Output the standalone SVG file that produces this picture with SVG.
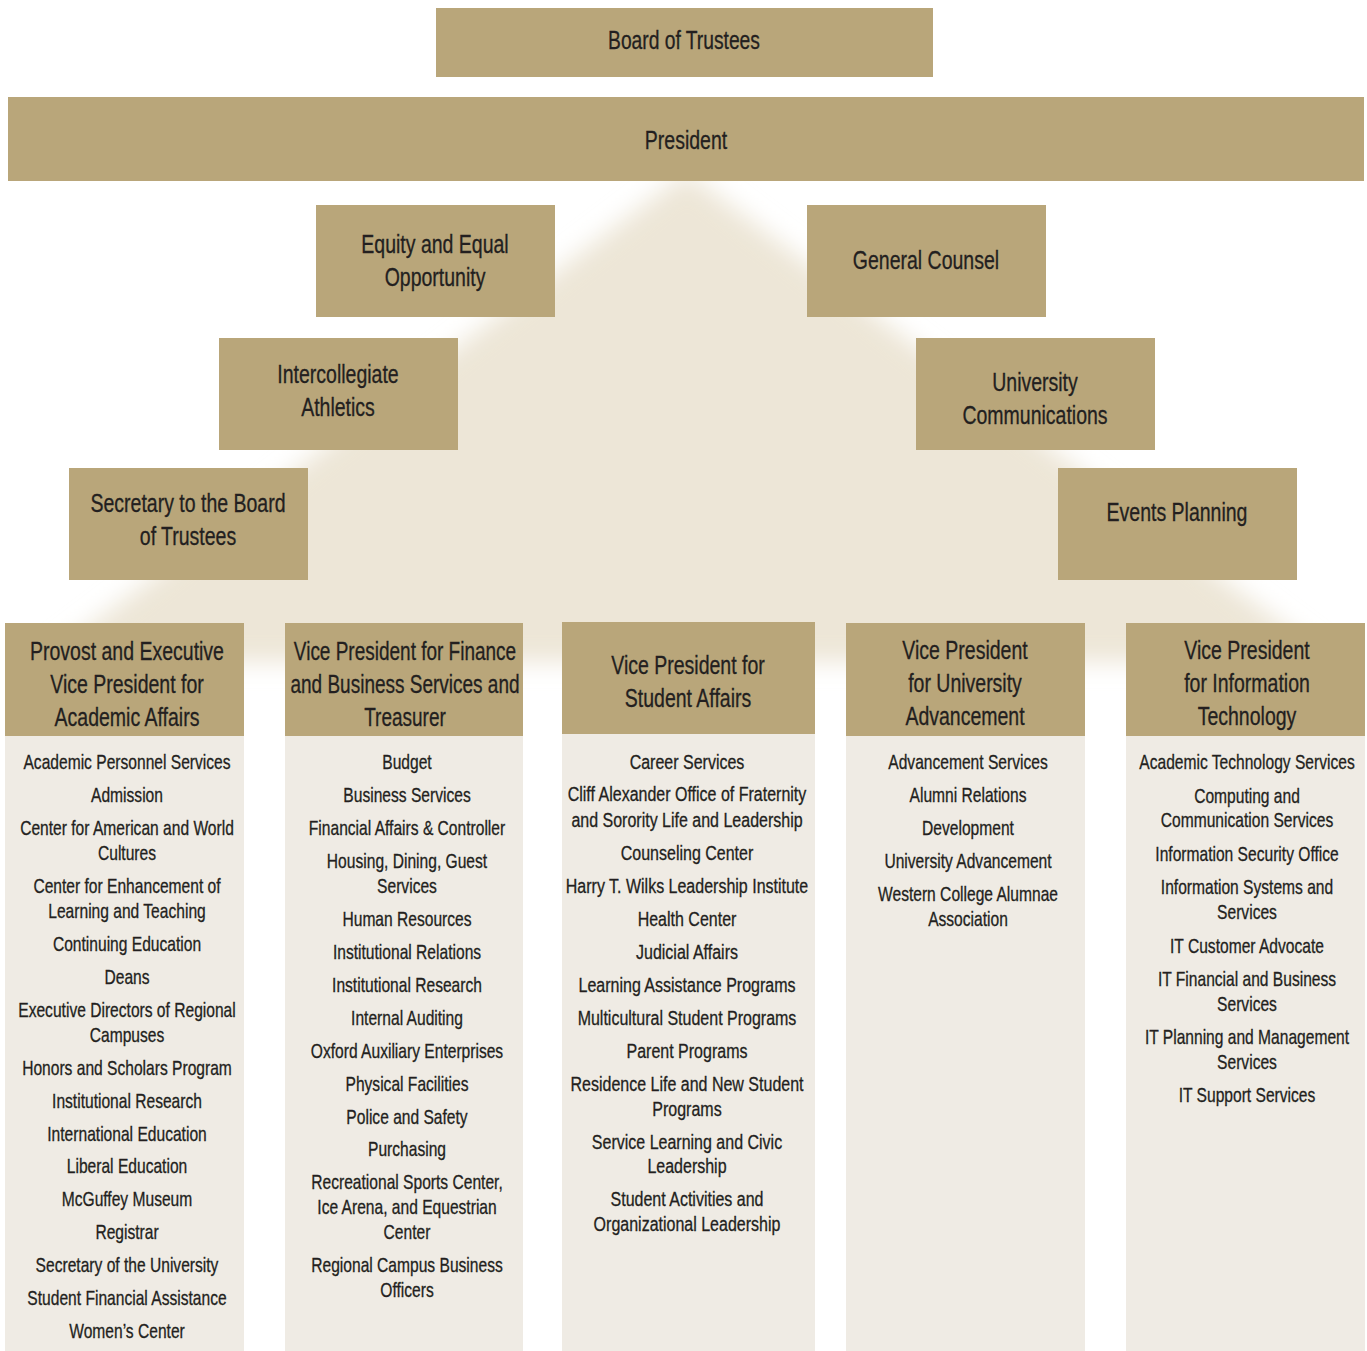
<svg xmlns="http://www.w3.org/2000/svg" width="1367" height="1351" viewBox="0 0 1367 1351">
<style>
.box{fill:#b9a67a}
.col{fill:#efebe4}
text{font-family:"Liberation Sans",Arial,sans-serif;fill:#231f20;stroke:#231f20;stroke-width:0.3;text-anchor:middle}
.h{font-size:25px}
.b{font-size:20px}
</style>
<defs>
<filter id="blur" x="-20%" y="-20%" width="140%" height="140%"><feGaussianBlur stdDeviation="12"/></filter>
</defs>
<rect width="1367" height="1351" fill="#ffffff"/>
<polygon points="687,172 1332,662 42,662" fill="#ede6d7" filter="url(#blur)"/>
<g id="connectors"></g>
<g id="board"><rect class="box" x="436" y="8" width="497" height="69"/><g transform="translate(684,0) scale(0.77,1)"><text class="h" x="0" y="49">Board of Trustees</text></g></g>
<g id="president"><rect class="box" x="8" y="97" width="1356" height="84"/><g transform="translate(686,0) scale(0.78,1)"><text class="h" x="0" y="149">President</text></g></g>
<g id="equity"><rect class="box" x="316" y="205" width="239" height="112"/><g transform="translate(435,0) scale(0.78,1)"><text class="h" x="0" y="253">Equity and Equal</text><text class="h" x="0" y="286">Opportunity</text></g></g>
<g id="counsel"><rect class="box" x="807" y="205" width="239" height="112"/><g transform="translate(926,0) scale(0.78,1)"><text class="h" x="0" y="269">General Counsel</text></g></g>
<g id="athletics"><rect class="box" x="219" y="338" width="239" height="112"/><g transform="translate(338,0) scale(0.78,1)"><text class="h" x="0" y="383">Intercollegiate</text><text class="h" x="0" y="416">Athletics</text></g></g>
<g id="communications"><rect class="box" x="916" y="338" width="239" height="112"/><g transform="translate(1035,0) scale(0.78,1)"><text class="h" x="0" y="391">University</text><text class="h" x="0" y="424">Communications</text></g></g>
<g id="secretary"><rect class="box" x="69" y="468" width="239" height="112"/><g transform="translate(188,0) scale(0.78,1)"><text class="h" x="0" y="512">Secretary to the Board</text><text class="h" x="0" y="545">of Trustees</text></g></g>
<g id="events"><rect class="box" x="1058" y="468" width="239" height="112"/><g transform="translate(1177,0) scale(0.78,1)"><text class="h" x="0" y="521">Events Planning</text></g></g>

<g id="provost">
<rect class="col" x="5" y="736" width="239" height="615"/>
<rect class="box" x="5" y="623" width="239" height="113"/>
<g transform="translate(127,0) scale(0.78,1)">
<text class="h" x="0" y="660">Provost and Executive</text>
<text class="h" x="0" y="693">Vice President for</text>
<text class="h" x="0" y="726">Academic Affairs</text>
<text class="b" x="0" y="769">Academic Personnel Services</text>
<text class="b" x="0" y="802">Admission</text>
<text class="b" x="0" y="835">Center for American and World</text>
<text class="b" x="0" y="860">Cultures</text>
<text class="b" x="0" y="893">Center for Enhancement of</text>
<text class="b" x="0" y="918">Learning and Teaching</text>
<text class="b" x="0" y="951">Continuing Education</text>
<text class="b" x="0" y="984">Deans</text>
<text class="b" x="0" y="1017">Executive Directors of Regional</text>
<text class="b" x="0" y="1042">Campuses</text>
<text class="b" x="0" y="1075">Honors and Scholars Program</text>
<text class="b" x="0" y="1108">Institutional Research</text>
<text class="b" x="0" y="1141">International Education</text>
<text class="b" x="0" y="1173">Liberal Education</text>
<text class="b" x="0" y="1206">McGuffey Museum</text>
<text class="b" x="0" y="1239">Registrar</text>
<text class="b" x="0" y="1272">Secretary of the University</text>
<text class="b" x="0" y="1305">Student Financial Assistance</text>
<text class="b" x="0" y="1338">Women’s Center</text>
</g>
</g>

<g id="finance">
<rect class="col" x="285" y="736" width="238" height="615"/>
<rect class="box" x="285" y="623" width="238" height="113"/>
<g transform="translate(405,0) scale(0.76,1)">
<text class="h" x="0" y="660">Vice President for Finance</text>
<text class="h" x="0" y="693">and Business Services and</text>
<text class="h" x="0" y="726">Treasurer</text>
</g>
<g transform="translate(407,0) scale(0.78,1)">
<text class="b" x="0" y="769">Budget</text>
<text class="b" x="0" y="802">Business Services</text>
<text class="b" x="0" y="835">Financial Affairs &amp; Controller</text>
<text class="b" x="0" y="868">Housing, Dining, Guest</text>
<text class="b" x="0" y="893">Services</text>
<text class="b" x="0" y="926">Human Resources</text>
<text class="b" x="0" y="959">Institutional Relations</text>
<text class="b" x="0" y="992">Institutional Research</text>
<text class="b" x="0" y="1025">Internal Auditing</text>
<text class="b" x="0" y="1058">Oxford Auxiliary Enterprises</text>
<text class="b" x="0" y="1091">Physical Facilities</text>
<text class="b" x="0" y="1124">Police and Safety</text>
<text class="b" x="0" y="1156">Purchasing</text>
<text class="b" x="0" y="1189">Recreational Sports Center,</text>
<text class="b" x="0" y="1214">Ice Arena, and Equestrian</text>
<text class="b" x="0" y="1239">Center</text>
<text class="b" x="0" y="1272">Regional Campus Business</text>
<text class="b" x="0" y="1297">Officers</text>
</g>
</g>

<g id="student">
<rect class="col" x="562" y="734" width="253" height="617"/>
<rect class="box" x="562" y="622" width="253" height="112"/>
<g transform="translate(688,0) scale(0.78,1)">
<text class="h" x="0" y="674">Vice President for</text>
<text class="h" x="0" y="707">Student Affairs</text>
</g>
<g transform="translate(687,0) scale(0.8,1)">
<text class="b" x="0" y="769">Career Services</text>
<text class="b" x="0" y="801">Cliff Alexander Office of Fraternity</text>
<text class="b" x="0" y="827">and Sorority Life and Leadership</text>
<text class="b" x="0" y="860">Counseling Center</text>
<text class="b" x="0" y="893">Harry T. Wilks Leadership Institute</text>
<text class="b" x="0" y="926">Health Center</text>
<text class="b" x="0" y="959">Judicial Affairs</text>
<text class="b" x="0" y="992">Learning Assistance Programs</text>
<text class="b" x="0" y="1025">Multicultural Student Programs</text>
<text class="b" x="0" y="1058">Parent Programs</text>
<text class="b" x="0" y="1091">Residence Life and New Student</text>
<text class="b" x="0" y="1116">Programs</text>
<text class="b" x="0" y="1149">Service Learning and Civic</text>
<text class="b" x="0" y="1173">Leadership</text>
<text class="b" x="0" y="1206">Student Activities and</text>
<text class="b" x="0" y="1231">Organizational Leadership</text>
</g>
</g>

<g id="advancement">
<rect class="col" x="846" y="736" width="239" height="615"/>
<rect class="box" x="846" y="623" width="239" height="113"/>
<g transform="translate(965,0) scale(0.78,1)">
<text class="h" x="0" y="659">Vice President</text>
<text class="h" x="0" y="692">for University</text>
<text class="h" x="0" y="725">Advancement</text>
</g>
<g transform="translate(968,0) scale(0.78,1)">
<text class="b" x="0" y="769">Advancement Services</text>
<text class="b" x="0" y="802">Alumni Relations</text>
<text class="b" x="0" y="835">Development</text>
<text class="b" x="0" y="868">University Advancement</text>
<text class="b" x="0" y="901">Western College Alumnae</text>
<text class="b" x="0" y="926">Association</text>
</g>
</g>

<g id="it">
<rect class="col" x="1126" y="736" width="239" height="615"/>
<rect class="box" x="1126" y="623" width="239" height="113"/>
<g transform="translate(1247,0) scale(0.78,1)">
<text class="h" x="0" y="659">Vice President</text>
<text class="h" x="0" y="692">for Information</text>
<text class="h" x="0" y="725">Technology</text>
<text class="b" x="0" y="769">Academic Technology Services</text>
<text class="b" x="0" y="803">Computing and</text>
<text class="b" x="0" y="827">Communication Services</text>
<text class="b" x="0" y="861">Information Security Office</text>
<text class="b" x="0" y="894">Information Systems and</text>
<text class="b" x="0" y="919">Services</text>
<text class="b" x="0" y="953">IT Customer Advocate</text>
<text class="b" x="0" y="986">IT Financial and Business</text>
<text class="b" x="0" y="1011">Services</text>
<text class="b" x="0" y="1044">IT Planning and Management</text>
<text class="b" x="0" y="1069">Services</text>
<text class="b" x="0" y="1102">IT Support Services</text>
</g>
</g>
</svg>
